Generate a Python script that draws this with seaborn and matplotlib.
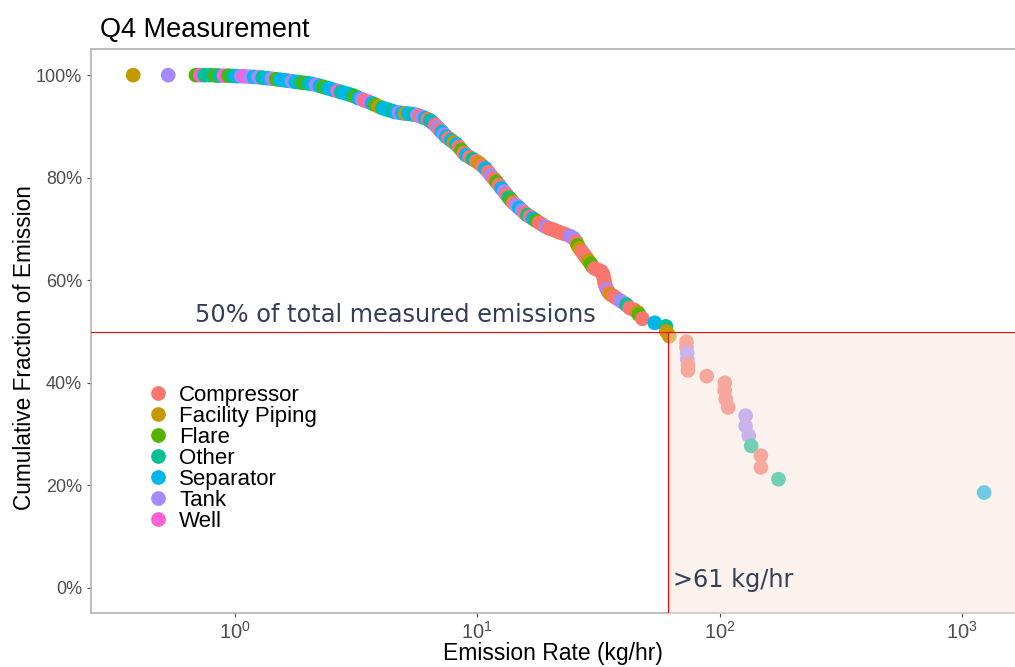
import numpy as np
import pandas as pd
import matplotlib
matplotlib.use("Agg")
import matplotlib.pyplot as plt
import seaborn as sns
from matplotlib.ticker import PercentFormatter, LogLocator, NullLocator

# Source categories and colours (ggplot default hue palette)
sources = ["Compressor", "Facility Piping", "Flare", "Other", "Separator", "Tank", "Well"]
colors = ["#F8766D", "#C49A00", "#53B400", "#00C094", "#00B6EB", "#A58AFF", "#FB61D7"]
codes = {"C": "Compressor", "P": "Facility Piping", "F": "Flare", "O": "Other",
         "S": "Separator", "T": "Tank", "W": "Well"}

# Emission rate (kg/hr)
rate = [
    0.38, 0.53, 0.69, 0.72, 0.75, 0.79, 0.83, 0.86, 0.90, 0.94, 0.98, 1.02, 1.06, 1.10,
    1.15, 1.20, 1.25, 1.30, 1.36, 1.42, 1.48, 1.54, 1.60, 1.66, 1.72, 1.78, 1.85, 1.92, 2.00,
    2.08, 2.16, 2.24, 2.32, 2.40, 2.48, 2.56, 2.65, 2.74, 2.84, 2.94, 3.04, 3.14, 3.24,
    3.34, 3.45, 3.56, 3.68, 3.80, 3.92, 4.05, 4.18, 4.32, 4.46, 4.60, 4.75, 4.90, 5.05,
    5.20, 5.35, 5.50, 5.65, 5.80, 5.95, 6.10, 6.25, 6.40,
    6.55, 6.70, 6.85, 7.00, 7.15, 7.30, 7.45, 7.60, 7.80, 8.00, 8.20, 8.40, 8.60, 8.80,
    9.00, 9.30, 9.60, 9.90, 10.2, 10.5, 10.8, 11.1, 11.4, 11.7, 12.0, 12.3, 12.6, 12.9,
    13.2, 13.5, 13.8, 14.1, 14.5, 14.9, 15.3, 15.7, 16.1, 16.5, 17.0, 17.5, 18.0, 18.6,
    19.2, 19.8,
    20.5, 21.2, 22.0, 23.0, 24.2, 25.0, 25.6, 26.0, 26.4, 27.0, 27.6, 28.2, 28.8, 29.4,
    29.9, 30.5, 31.5, 32.5, 33.0, 33.2, 33.4, 33.6, 33.9, 34.3, 34.9, 35.6, 36.5, 37.5,
    39.0, 40.2, 41.3, 42.5, 44.5, 46.0, 46.5, 48.0, 54.0, 60.0, 60.3, 62.0,
    73.0, 73.0, 73.5, 73.5, 74.0, 74.0, 88.5, 105, 105, 106, 108.5, 128, 128, 132, 135,
    148, 148, 175, 1235,
]

# Cumulative fraction of emission (%)
cum_frac = [
    100.0, 100.0, 100.0, 100.0, 100.0, 100.0, 99.95, 99.9, 99.9, 99.9, 99.85, 99.8, 99.8, 99.75,
    99.7, 99.65, 99.6, 99.5, 99.4, 99.3, 99.2, 99.1, 99.0, 98.9, 98.8, 98.7, 98.6, 98.5, 98.4,
    98.3, 98.1, 97.9, 97.7, 97.5, 97.3, 97.1, 96.9, 96.7, 96.5, 96.3, 96.1, 95.8, 95.5,
    95.3, 95.0, 94.8, 94.5, 94.2, 93.9, 93.6, 93.4, 93.2, 93.0, 92.8, 92.7, 92.6, 92.5,
    92.5, 92.4, 92.3, 92.2, 92.0, 91.8, 91.6, 91.4, 91.1,
    90.7, 90.3, 89.8, 89.3, 88.9, 88.4, 88.0, 87.7, 87.3, 86.9, 86.5, 86.0, 85.4, 84.8,
    84.4, 84.0, 83.6, 83.2, 82.8, 82.3, 81.8, 81.1, 80.4, 79.8, 79.2, 78.6, 77.9, 77.3,
    76.7, 76.1, 75.6, 75.1, 74.6, 74.1, 73.6, 73.1, 72.7, 72.4, 72.0, 71.6, 71.2, 70.8,
    70.4, 70.1,
    69.9, 69.6, 69.3, 69.0, 68.6, 68.2, 67.5, 66.8, 66.2, 65.6, 65.0, 64.4, 63.8, 63.2,
    62.7, 62.3, 62.0, 61.7, 61.2, 60.6, 60.0, 59.4, 58.8, 58.2, 57.6, 57.2, 56.9, 56.5,
    56.0, 55.6, 55.2, 54.6, 54.2, 53.7, 53.3, 52.5, 51.7, 51.0, 50.0, 49.1,
    48.0, 46.9, 45.8, 44.6, 43.5, 42.4, 41.3, 40.0, 38.5, 36.8, 35.2, 33.6, 31.6, 29.7, 27.7,
    25.8, 23.5, 21.2, 18.6,
]

# Source of each point
source_code = list(
    "PTFWOOFOWFOSTWTSTOSTFSSSTSOFO"
    "STSFOSSWOSSOFSTCWSFPOSSOSTSP"
    "SSOTCTSCO"
    "SCTCSTSCSPSCFCSCOCPCSCTCFCSTCOFCTSTCOCSFCCTC"
    "CCCCTTCFPCCCPFFCCCCCCCCTCPCCTTOCCPFCSOPP"
    "CCTTCCCCCCCTTTOCCOS"
)

threshold = 61  # kg/hr, 50% of total measured emissions

df = pd.DataFrame({"rate": rate, "frac": cum_frac,
                   "source": [codes[c] for c in source_code]})

plt.rcParams["font.family"] = ["Liberation Sans", "DejaVu Sans"]

fig = plt.figure(figsize=(10.15, 6.67), dpi=100)
ax = fig.add_axes([91 / 1015, 54 / 667, 924 / 1015, 564 / 667])

sns.scatterplot(data=df, x="rate", y="frac", hue="source", hue_order=sources,
                palette=dict(zip(sources, colors)), s=112, linewidth=0, alpha=1,
                ax=ax, zorder=2)

ax.set_xscale("log")
ax.set_xlim(0.2545, 1656)
ax.set_ylim(-4.9, 105.1)

# shaded region above the threshold
ax.fill_between([threshold, 1e4], -10, 50, color="#F8E4D9", alpha=0.45, lw=0, zorder=3)
ax.axhline(50, color="red", lw=0.8, zorder=4)
ax.vlines(threshold, -10, 50, color="red", lw=0.8, zorder=4)

ax.text(0.684, 51.9, "50% of total measured emissions", family="DejaVu Sans",
        fontsize=17.3, color="#333F58", va="baseline", ha="left", zorder=5)
ax.text(64.2, 0.2, ">61 kg/hr", family="DejaVu Sans",
        fontsize=17.3, color="#333F58", va="baseline", ha="left", zorder=5)

ax.xaxis.set_major_locator(LogLocator(base=10, numticks=10))
ax.xaxis.set_minor_locator(NullLocator())
ax.set_yticks([0, 20, 40, 60, 80, 100])
ax.yaxis.set_major_formatter(PercentFormatter(100, decimals=0))
ax.tick_params(labelsize=13, colors="#4D4D4D", length=3, width=0.8)
ax.tick_params(axis="x", labelsize=14.5, pad=3)

for side in ["left", "bottom", "top"]:
    ax.spines[side].set_color("#B3B3B3")
    ax.spines[side].set_linewidth(1.2)
ax.spines["right"].set_visible(False)

ax.set_xlabel("Emission Rate (kg/hr)", fontsize=16.5, color="black", labelpad=-1)
ax.set_ylabel("Cumulative Fraction of Emission", fontsize=16.3, color="black")
ax.yaxis.set_label_coords(-0.059, 0.47)

leg = ax.legend(loc="upper left", bbox_to_anchor=(0.063, 0.404), frameon=False,
                fontsize=16, handlelength=0.8, handletextpad=0.55, labelspacing=0.0,
                borderpad=0, borderaxespad=0, title=None)

fig.text(100 / 1015, 1 - 37 / 667, "Q4 Measurement", fontsize=19.5, color="black",
         va="baseline", ha="left")

plt.savefig("out.png", dpi=100)
